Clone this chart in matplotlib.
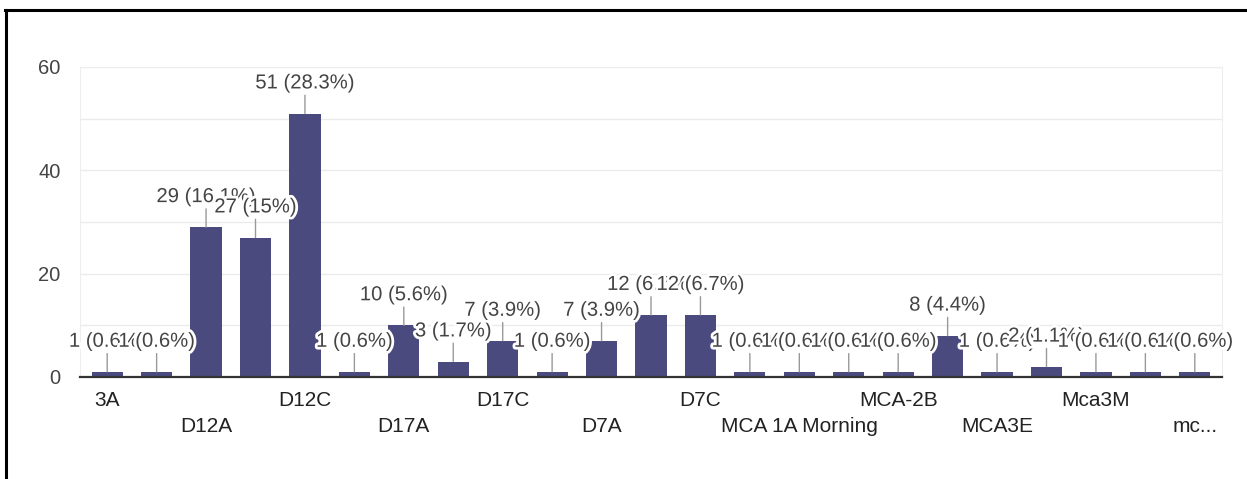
import matplotlib.pyplot as plt
import matplotlib.patheffects as pe
from matplotlib.lines import Line2D

plt.rcParams['font.family'] = ['Liberation Sans', 'DejaVu Sans']

# sections (only every other name is shown on the axis)
sections = ["3A", "3B", "D12A", "D12B", "D12C", "D12D", "D17A", "D17B",
            "D17C", "D17D", "D7A", "D7B", "D7C", "D7D", "MCA 1A Morning",
            "MCA 1B", "MCA-2B", "MCA3A", "MCA3E", "MCA3F", "Mca3M", "Mca3N",
            "mc..."]
counts = [1, 1, 29, 27, 51, 1, 10, 3, 7, 1, 7, 12, 12, 1, 1, 1, 1, 8, 1, 2,
          1, 1, 1]
y_ticks = [0, 20, 40, 60]

total = sum(counts)

fig = plt.figure(figsize=(12.47, 4.79), dpi=100)
ax = fig.add_axes([80 / 1247, 1 - 377 / 479, 1142 / 1247, 310 / 479])

xs = list(range(len(counts)))
ax.bar(xs, counts, width=0.63, color='#4a4a7e', zorder=3)

for i, (x, c) in enumerate(zip(xs, counts)):
    pct = round(c / total * 100, 1)
    pct_s = f"{pct:g}"
    ax.annotate(f"{c} ({pct_s}%)", xy=(x, c), xytext=(0, 22),
                textcoords='offset points', ha='center', va='center',
                fontsize=14.6, color='#444444', zorder=10 + i,
                arrowprops=dict(arrowstyle='-', color='#999999', lw=1,
                                shrinkA=0, shrinkB=0),
                path_effects=[pe.withStroke(linewidth=4, foreground='white')])

ax.set_xlim(-0.55, len(counts) - 0.45)
ax.set_ylim(0, 60)
ax.set_yticks(range(0, 61, 10))
ax.set_yticklabels([str(t) if t in y_ticks else "" for t in range(0, 61, 10)])
ax.grid(axis='y', color='#ebebeb', lw=1, zorder=0)

shown = xs[::2]
ax.set_xticks(shown)
ax.set_xticklabels([("" if k % 2 == 0 else "\n") + sections[x]
                    for k, x in enumerate(shown)], linespacing=1.5)
ax.tick_params(axis='x', length=0, pad=10, labelsize=15, labelcolor='#222222')
ax.tick_params(axis='y', length=0, pad=14, labelsize=14.5, labelcolor='#444444')

for s in ['left', 'right', 'top']:
    ax.spines[s].set_color('#eeeeee')
ax.spines['bottom'].set_color('#333333')
ax.spines['bottom'].set_linewidth(1.6)
ax.spines['bottom'].set_zorder(5)

# frame lines of the screenshot
fig.add_artist(Line2D([5 / 1247, 1], [1 - 9.5 / 479] * 2, color='black', lw=2.2))
fig.add_artist(Line2D([5.5 / 1247] * 2, [0, 1 - 9.5 / 479], color='black', lw=2.2))

fig.savefig('out.png', dpi=100)
